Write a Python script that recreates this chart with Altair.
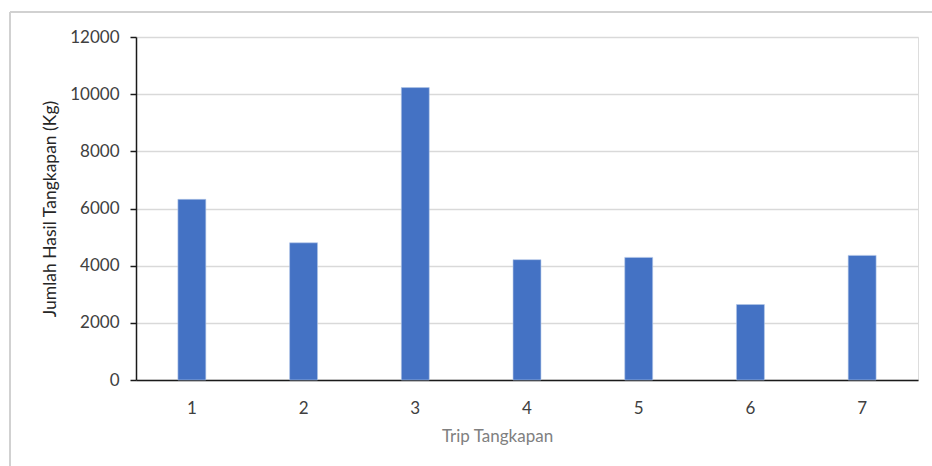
import altair as alt
import pandas as pd

trips = ["1", "2", "3", "4", "5", "6", "7"]
catch_kg = [6320, 4800, 10230, 4210, 4290, 2640, 4360]

df = pd.DataFrame({"trip": trips, "kg": catch_kg})

FONT = "Lato"

bars = alt.Chart(df).mark_bar(color="#4472C4", stroke="#b4c7e7", strokeWidth=0.6).encode(
    x=alt.X("trip:N", sort=trips,
            scale=alt.Scale(paddingInner=0.75, paddingOuter=0.375),
            axis=alt.Axis(title="Trip Tangkapan", labelAngle=0, ticks=False,
                          domainColor="#1a1a1a", domainWidth=1.5,
                          labelPadding=20, titlePadding=12,
                          titleX=361, titleAlign="center", titleAnchor="start",
                          labelColor="#404040", labelFontSize=17, labelFont=FONT,
                          titleColor="#808080", titleFontSize=17, titleFont=FONT,
                          titleFontWeight="normal")),
    y=alt.Y("kg:Q",
            scale=alt.Scale(domain=[0, 12000], nice=False),
            axis=alt.Axis(title="Jumlah Hasil Tangkapan (Kg)", values=[0, 2000, 4000, 6000, 8000, 10000, 12000],
                          format="d",
                          domainColor="#1a1a1a", domainWidth=1.5,
                          tickColor="#1a1a1a", tickSize=6, tickWidth=1.5,
                          gridColor="#d9d9d9", gridWidth=1.5,
                          labelPadding=11,
                          labelColor="#404040", labelFontSize=17, labelFont=FONT,
                          titleColor="#262626", titleFontSize=17.5, titleFont=FONT,
                          titleFontWeight="normal", titlePadding=10)),
)

border = alt.Chart(df).mark_rule(color="#d0d0d0", strokeWidth=1.5).encode(
    x=alt.value(-126), x2=alt.value(900), y=alt.value(-25)
) + alt.Chart(df).mark_rule(color="#d0d0d0", strokeWidth=1.5).encode(
    x=alt.value(-126), y=alt.value(-25), y2=alt.value(450)
)

chart = alt.layer(border, bars).properties(
    width=782, height=343,
    autosize=alt.AutoSizeParams(type="none"),
    padding={"left": 136, "top": 37, "right": 14, "bottom": 86},
).configure_view(stroke=None).configure(background="white")

chart.save("out.html", embed_options={"renderer": "svg", "actions": False})
